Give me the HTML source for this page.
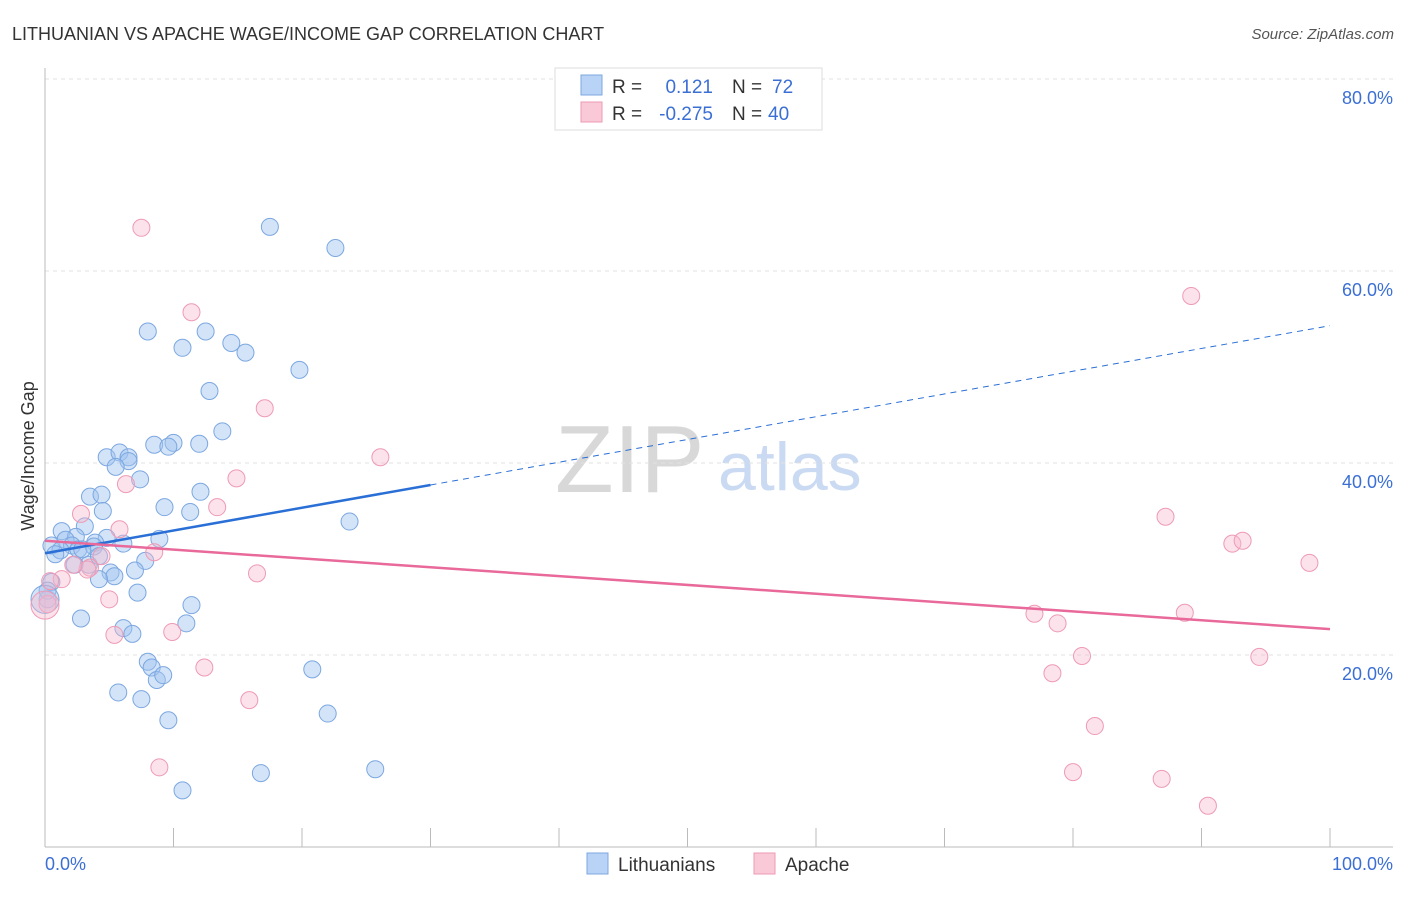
<!DOCTYPE html>
<html><head><meta charset="utf-8"><style>
body{margin:0;background:#fff;font-family:"Liberation Sans",sans-serif}
svg text{font-family:"Liberation Sans",sans-serif}
</style></head><body>
<svg width="1406" height="892" xmlns="http://www.w3.org/2000/svg">
<text x="12" y="40" font-size="18" fill="#333">LITHUANIAN VS APACHE WAGE/INCOME GAP CORRELATION CHART</text>
<text x="1394" y="39" font-size="15" fill="#555" font-style="italic" text-anchor="end">Source: ZipAtlas.com</text>
<text x="555" y="492" font-size="96" fill="#d8d8d8" font-family="Liberation Serif">ZIP</text>
<text x="718" y="490" font-size="68" fill="#c9daf2">atlas</text>
<g id="grid"></g><g id="axes"></g><g id="pts"></g><g id="lines"></g>
<text transform="translate(34,456) rotate(-90)" font-size="18" fill="#333" text-anchor="middle">Wage/Income Gap</text>
<text x="45" y="870" font-size="18" fill="#3b6fd4">0.0%</text>
<text x="1393" y="870" font-size="18" fill="#3b6fd4" text-anchor="end">100.0%</text>
<g>
<rect x="555" y="68" width="267" height="62" fill="#fff" stroke="#ddd"/>
<rect x="581" y="75" width="21" height="20" fill="#b8d3f5" stroke="#7ba7e0"/>
<rect x="581" y="102" width="21" height="20" fill="#fac9d8" stroke="#ee9ab5"/>
<text x="612" y="93" font-size="19" fill="#333">R =</text>
<text x="713" y="93" font-size="19" fill="#3b6fd4" text-anchor="end">0.121</text>
<text x="732" y="93" font-size="19" fill="#333">N =</text><text x="772" y="93" font-size="19" fill="#3b6fd4">72</text>
<text x="612" y="120" font-size="19" fill="#333">R =</text>
<text x="713" y="120" font-size="19" fill="#3b6fd4" text-anchor="end">-0.275</text>
<text x="732" y="120" font-size="19" fill="#333">N =</text><text x="768" y="120" font-size="19" fill="#3b6fd4">40</text>
</g>
<g>
<rect x="587" y="853" width="21" height="21" fill="#b8d3f5" stroke="#7ba7e0"/>
<text x="618" y="871" font-size="19" fill="#333">Lithuanians</text>
<rect x="754" y="853" width="21" height="21" fill="#fac9d8" stroke="#ee9ab5"/>
<text x="785" y="871" font-size="19" fill="#333">Apache</text>
</g>
</svg>
<script>
const yTicks=[20,40,60,80];
const xTicks=[0,10,20,30,40,50,60,70,80,90,100];
const blueX=[17.5,22.6,8,12.5,10.7,14.5,15.6,19.8,12.8,13.8,8.5,10,9.6,12,4.8,5.8,6.5,6.5,5.5,7.4,3.5,4.4,12.1,9.3,11.3,4.5,23.7,1.3,3.1,2.4,4.8,8.9,0.5,1.6,2.1,1.2,2.6,3.9,6.1,3.8,0.8,7.8,3.4,2.3,5.1,5.4,7,4.2,0.5,7.2,11.4,0.2,2.8,6.1,6.8,11,8,8.3,20.8,8.7,9.2,5.7,7.5,22,9.6,16.8,25.7,10.7,0.2,0,4.2,2.9];
const blueY=[64.6,62.4,53.7,53.7,52,52.5,51.5,49.7,47.5,43.3,41.9,42.1,41.7,42,40.6,41.1,40.6,40.2,39.6,38.3,36.5,36.7,37,35.4,34.9,35,33.9,32.9,33.4,32.3,32.2,32.1,31.4,32,31.4,30.9,31,31.7,31.6,31.3,30.5,29.8,29.4,29.4,28.6,28.2,28.8,27.9,27.6,26.5,25.2,25.8,23.8,22.8,22.2,23.3,19.3,18.7,18.5,17.4,17.9,16.1,15.4,13.9,13.2,7.7,8.1,5.9,26.7,25.8,30.3,31];
const pinkX=[7.5,11.4,89.2,17.1,26.1,14.9,6.3,13.4,2.8,5.8,87.2,8.5,4.4,92.4,93.2,98.4,3.5,3.3,2.2,1.3,16.5,0.4,5,77,78.8,88.7,5.4,9.9,80.7,94.5,12.4,78.4,15.9,81.7,8.9,80,86.9,90.5,0.2,0];
const pinkY=[64.5,55.7,57.4,45.7,40.6,38.4,37.8,35.4,34.7,33.1,34.4,30.7,30.3,31.6,31.9,29.6,29.1,28.9,29.4,27.9,28.5,27.7,25.8,24.3,23.3,24.4,22.1,22.4,19.9,19.8,18.7,18.1,15.3,12.6,8.3,7.8,7.1,4.3,25.3,25.2];
const blueFit=[30.6,54.3], pinkFit=[31.9,22.7];
const X=v=>45+v*12.85, Y=v=>847-v*9.6;
const NS='http://www.w3.org/2000/svg';
function mk(t,a,p){const e=document.createElementNS(NS,t);for(const k in a)e.setAttribute(k,a[k]);document.getElementById(p).appendChild(e);return e;}
yTicks.forEach(t=>{
 const l=mk('line',{x1:45,x2:1393,y1:Y(t),y2:Y(t),stroke:'#e2e2e2','stroke-dasharray':'4,4'},'grid');
 
 
 const tx=mk('text',{x:1393,y:Y(t)+25,'font-size':18,fill:'#3b6fd4','text-anchor':'end'},'grid');
 tx.textContent=t.toFixed(1)+'%';
 
 
});
let a=mk('line',{x1:45,x2:45,y1:68,y2:847,stroke:'#bbb'},'axes');


a=mk('line',{x1:45,x2:1393,y1:847,y2:847,stroke:'#bbb'},'axes');


xTicks.forEach(t=>{
 const l=mk('line',{x1:X(t),x2:X(t),y1:828,y2:847,stroke:'#bbb'},'axes');
 
 
});
blueX.forEach((v,i)=>{
 const c=mk('circle',{cx:X(v),cy:Y(blueY[i]),r:(v===0?14:8.5),fill:'rgba(160,195,240,0.45)',stroke:'#7ba7e0','stroke-width':1},'pts');
 
 
});
pinkX.forEach((v,i)=>{
 const c=mk('circle',{cx:X(v),cy:Y(pinkY[i]),r:(v===0?14:8.5),fill:'rgba(247,185,205,0.4)',stroke:'#ee9ab5','stroke-width':1},'pts');
 
 
});
const bAt=x=>blueFit[0]+(blueFit[1]-blueFit[0])*x/100;
let ln=mk('line',{x1:X(0),y1:Y(bAt(0)),x2:X(30),y2:Y(bAt(30)),stroke:'#2a6fd6','stroke-width':2.5},'lines');


ln=mk('line',{x1:X(30),y1:Y(bAt(30)),x2:X(100),y2:Y(bAt(100)),stroke:'#2a6fd6','stroke-width':1,'stroke-dasharray':'6,5'},'lines');


ln=mk('line',{x1:X(0),y1:Y(pinkFit[0]),x2:X(100),y2:Y(pinkFit[1]),stroke:'#e8699a','stroke-width':2.5},'lines');


</script>
</body></html>
